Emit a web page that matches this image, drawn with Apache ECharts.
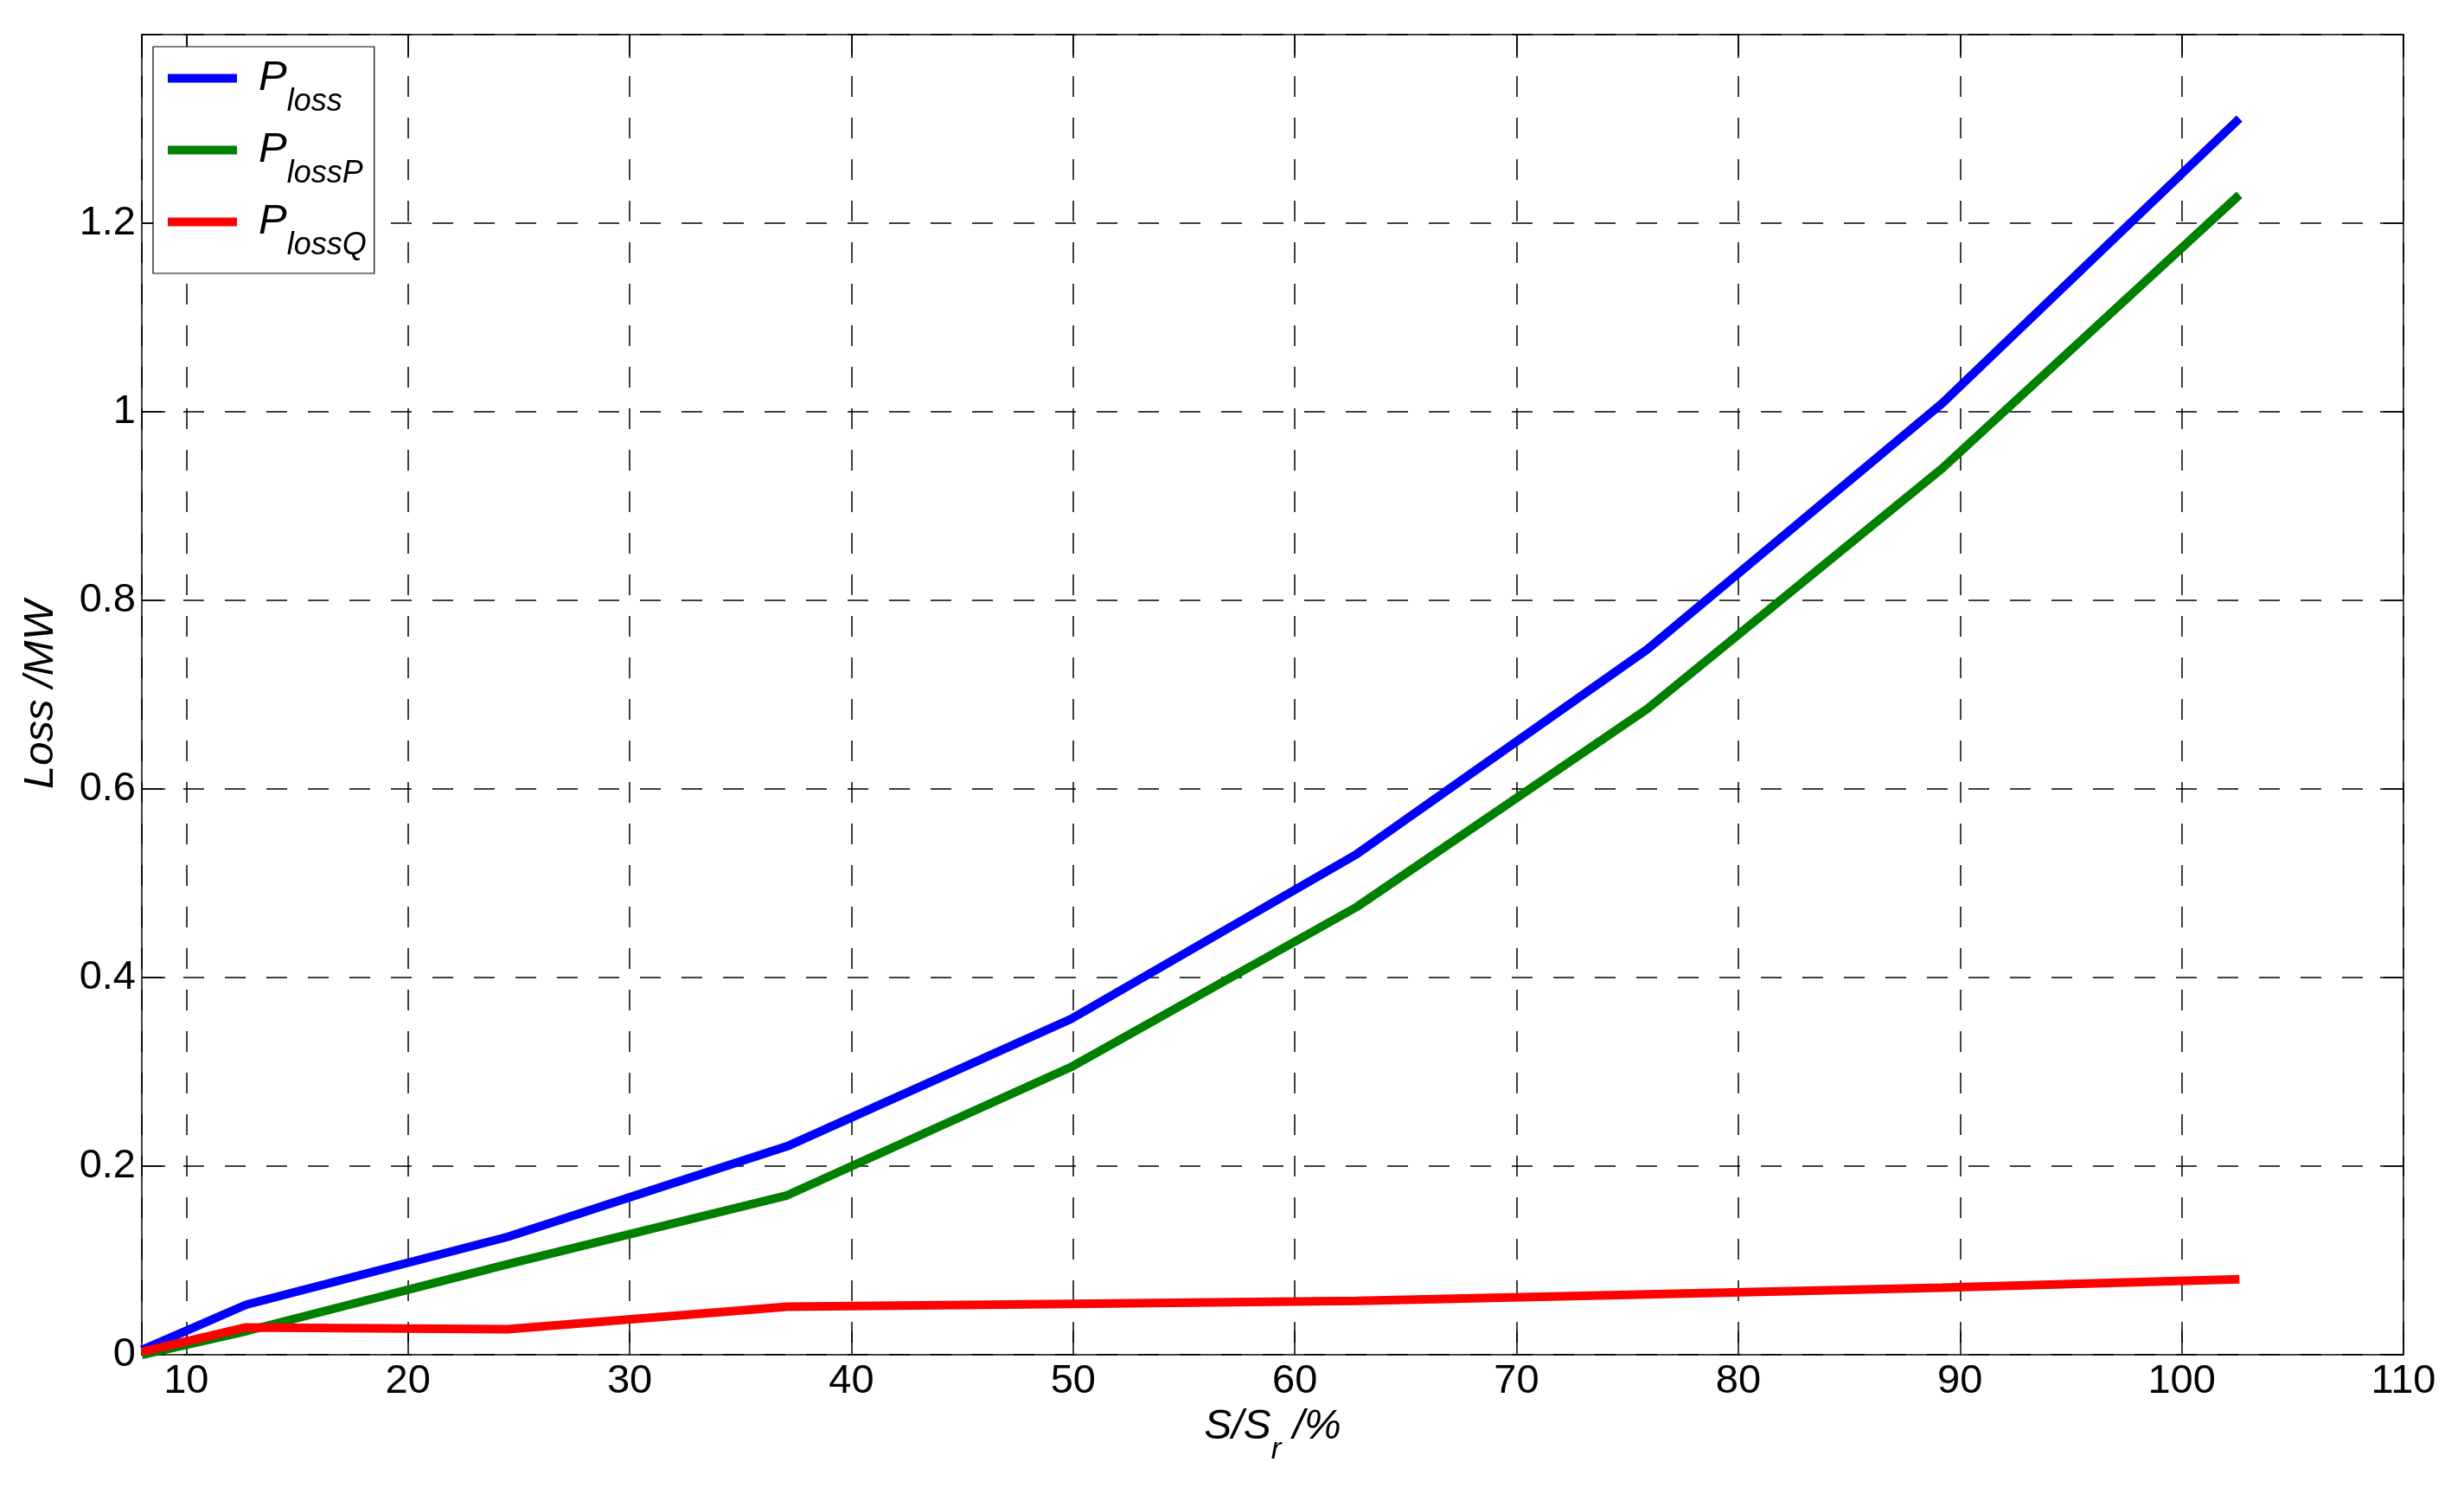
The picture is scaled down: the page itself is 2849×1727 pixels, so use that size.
<!DOCTYPE html>
<html><head><meta charset="utf-8">
<script src="https://cdn.jsdelivr.net/npm/echarts@6/dist/echarts.min.js"></script>
<style>html,body{margin:0;padding:0;background:#fff}#c{width:2849px;height:1727px}</style>
</head><body><div id="c"></div>
<script>
// ---- data ----
const loadRatio = [8, 12.7, 24.5, 37.1, 49.9, 62.8, 75.9, 89.2, 102.6];
const pLoss  = [0.005, 0.053, 0.125, 0.221, 0.356, 0.531, 0.748, 1.009, 1.311];
const pLossP = [0.000, 0.025, 0.096, 0.169, 0.305, 0.475, 0.685, 0.940, 1.230];
const pLossQ = [0.003, 0.029, 0.027, 0.051, 0.054, 0.057, 0.064, 0.071, 0.080];
const seriesNames = ['Ploss', 'PlossP', 'PlossQ'];
const legendSubs = ['loss', 'lossP', 'lossQ'];
const seriesColors = ['#0000ff', '#008000', '#ff0000'];
const xName = ['S/S', 'r', ' /%'];
const yName = 'Loss /MW';

const F = "'Liberation Sans', Arial, sans-serif";
const allY = [pLoss, pLossP, pLossQ];

const axisLine = {show: true, onZero: false, lineStyle: {color: '#000', width: 1.5}};
const axisTick = {show: true, inside: true, length: 27, lineStyle: {color: '#000', width: 1.5}};
const gridLine = {show: true, lineStyle: {color: '#000', width: 1.5, type: [24, 24]}};

const chart = echarts.init(document.getElementById('c'), null, {renderer: 'canvas'});
chart.setOption({
  animation: false,
  backgroundColor: '#fff',
  grid: {left: 164, right: 70, top: 40, bottom: 161, containLabel: false},
  legend: {
    show: true, orient: 'vertical', left: 177, top: 54,
    padding: [12, 9, 14, 17], itemGap: 13, itemWidth: 80, itemHeight: 10,
    icon: 'rect', backgroundColor: '#fff', borderColor: '#000', borderWidth: 1.2,
    data: seriesNames,
    formatter: function (name) {
      const i = seriesNames.indexOf(name);
      return '{p|P}{s|' + legendSubs[i] + '}';
    },
    textStyle: {
      padding: [0, 0, 0, 20],
      rich: {
        p: {fontSize: 49, lineHeight: 49, fontStyle: 'italic', fontFamily: F, color: '#000', verticalAlign: 'top'},
        s: {fontSize: 36, lineHeight: 36, fontStyle: 'italic', fontFamily: F, color: '#000', verticalAlign: 'top', padding: [34, 0, 0, 0]}
      }
    }
  },
  xAxis: [{
    type: 'value', min: 8, max: 110, splitNumber: 10, position: 'bottom',
    axisLine: axisLine, axisTick: axisTick, splitLine: gridLine,
    axisLabel: {showMinLabel: false, fontSize: 47, color: '#000', fontFamily: F, margin: 8},
    name: '{a|' + xName[0] + '}{s|' + xName[1] + '}{a|' + xName[2] + '}',
    nameLocation: 'middle', nameGap: 60,
    nameTextStyle: {
      rich: {
        a: {fontSize: 48, lineHeight: 48, fontStyle: 'italic', fontFamily: F, color: '#000', verticalAlign: 'top'},
        s: {fontSize: 35, lineHeight: 35, fontStyle: 'italic', fontFamily: F, color: '#000', verticalAlign: 'top', padding: [33, 0, 0, 0]}
      }
    }
  }, {
    type: 'value', min: 8, max: 110, splitNumber: 10, position: 'top',
    axisLine: axisLine, axisTick: axisTick, splitLine: {show: false}, axisLabel: {show: false}
  }],
  yAxis: [{
    type: 'value', min: 0, max: 1.4, interval: 0.2, position: 'left',
    axisLine: axisLine, axisTick: axisTick, splitLine: gridLine,
    axisLabel: {showMaxLabel: false, fontSize: 47, color: '#000', fontFamily: F, margin: 7},
    name: yName, nameLocation: 'middle', nameGap: 92,
    nameTextStyle: {fontSize: 49, fontStyle: 'italic', fontFamily: F, color: '#000'}
  }, {
    type: 'value', min: 0, max: 1.4, interval: 0.2, position: 'right',
    axisLine: axisLine, axisTick: axisTick, splitLine: {show: false}, axisLabel: {show: false}
  }],
  series: seriesNames.map(function (n, k) {
    return {
      name: n, type: 'line', xAxisIndex: 0, yAxisIndex: 0,
      data: loadRatio.map(function (x, i) { return [x, allY[k][i]]; }),
      showSymbol: false, symbol: 'none', clip: true,
      lineStyle: {width: 10, color: seriesColors[k], cap: 'butt'},
      itemStyle: {color: seriesColors[k]},
      z: 3 + k
    };
  })
});
</script></body></html>
